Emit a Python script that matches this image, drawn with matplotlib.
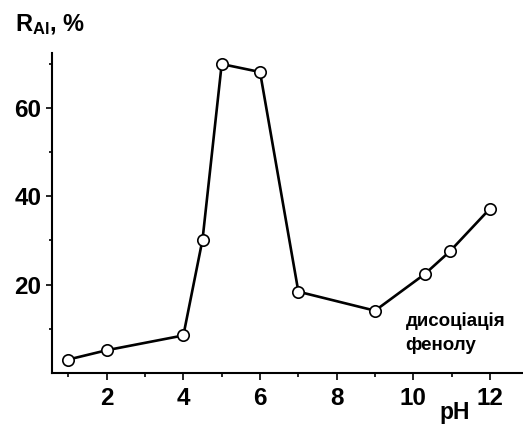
import matplotlib
matplotlib.use('Agg')
import matplotlib.pyplot as plt
import numpy as np

plt.rcParams['font.family'] = ['Liberation Sans', 'DejaVu Sans']
plt.rcParams['font.weight'] = 'bold'
plt.rcParams['mathtext.fontset'] = 'custom'
plt.rcParams['mathtext.rm'] = 'Liberation Sans:bold'
plt.rcParams['mathtext.bf'] = 'Liberation Sans:bold'

# pH vs extraction degree of Al
ph = [1, 2, 4, 4.5, 5, 6, 7, 9, 10.3, 10.95, 12]
r_al = [3.05, 5.15, 8.5, 30.2, 69.9, 68.1, 18.4, 14.1, 22.4, 27.5, 37.2]

x_major = [2, 4, 6, 8, 10, 12]
x_minor = [1, 3, 5, 7, 9, 11]
y_major = [20, 40, 60]
y_minor = [10, 30, 50, 70]

fig = plt.figure(figsize=(5.23, 4.26), dpi=100)
ax = fig.add_axes([52 / 523, 53 / 426, 1 - 52 / 523, 320 / 426])

ax.plot(ph, r_al, color='black', lw=1.9, marker='o', ms=8.2,
        mfc='white', mec='black', mew=1.2, zorder=3)

ax.set_xlim(0.573, 12.86)
ax.set_ylim(0, 72.4)

ax.spines['top'].set_visible(False)
ax.spines['right'].set_visible(False)
ax.spines['left'].set_linewidth(1.5)
ax.spines['bottom'].set_linewidth(1.5)

ax.set_xticks(x_major)
ax.set_xticks(x_minor, minor=True)
ax.set_yticks(y_major)
ax.set_yticks(y_minor, minor=True)
ax.tick_params(axis='both', which='major', labelsize=17.5, width=1.2)
ax.tick_params(axis='x', which='major', length=5, pad=5)
ax.tick_params(axis='x', which='minor', length=3, width=1.2)
ax.tick_params(axis='y', which='major', length=4.5, pad=3)
ax.tick_params(axis='y', which='minor', length=2.5, width=1.2)
for lab in ax.get_xticklabels() + ax.get_yticklabels():
    lab.set_fontweight('bold')

fig.text(15 / 523, 1 - 31 / 426, r'$\mathbf{R_{Al}}$, %', fontsize=17,
         fontweight='bold', ha='left', va='baseline')
fig.text(455 / 523, 1 - 419 / 426, 'pH', fontsize=16.5, fontweight='bold',
         ha='center', va='baseline')

ax.text(9.8, 10.7, 'дисоціація', fontsize=13.5, fontweight='bold',
        ha='left', va='baseline')
ax.text(9.8, 5.3, 'фенолу', fontsize=13.5, fontweight='bold',
        ha='left', va='baseline')

fig.savefig('out.png', dpi=100)
